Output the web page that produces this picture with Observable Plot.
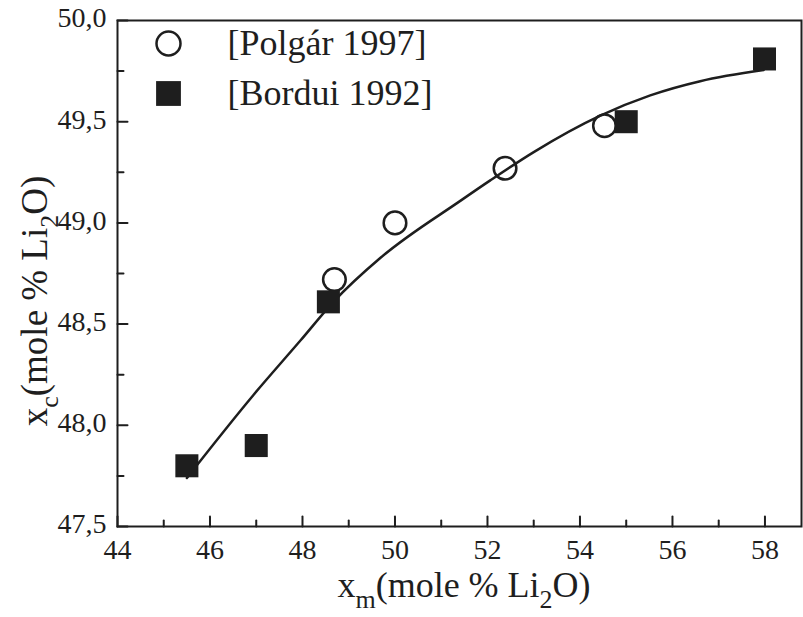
<!DOCTYPE html>
<html><head><meta charset="utf-8">
<script src="https://cdn.jsdelivr.net/npm/d3@7"></script>
<script src="https://cdn.jsdelivr.net/npm/@observablehq/plot@0.6"></script>
<style>
body{margin:0;background:#fff;}
#chart svg text{font-family:"Liberation Serif", "Times New Roman", serif !important;}
</style>
</head><body><div id="chart"></div>
<script>
// Data
const polgarX = [48.69, 50.0, 52.38, 54.53];
const polgarY = [48.72, 49.0, 49.27, 49.48];
const borduiX = [45.5, 47.0, 48.56, 55.0, 57.99];
const borduiY = [47.8, 47.9, 48.61, 49.5, 49.81];
const fitX = [45.5, 46.94, 47.96, 48.67, 49.7, 51.42, 52.06, 53.0, 54.44, 55.52, 56.6, 57.97];
const fitY = [47.74, 48.15, 48.42, 48.61, 48.83, 49.11, 49.21, 49.35, 49.53, 49.63, 49.70, 49.755];
const seriesNames = ["[Polgár 1997]", "[Bordui 1992]"];
const xTicks = [44, 46, 48, 50, 52, 54, 56, 58];
const xMinor = [45, 47, 49, 51, 53, 55, 57];
const yTicks = [47.5, 48.0, 48.5, 49.0, 49.5, 50.0];
const yMinor = [47.75, 48.25, 48.75, 49.25, 49.75];
const xDomain = [44, 58.79];
const yDomain = [47.5, 50.0];

const ink = "#1e1e1e";
const serif = "Liberation Serif";
const polgar = polgarX.map((x, i) => ({x, y: polgarY[i]}));
const bordui = borduiX.map((x, i) => ({x, y: borduiY[i]}));
const fit = fitX.map((x, i) => ({x, y: fitY[i]}));
const line = {draw(ctx, l) { ctx.moveTo(0, 0); ctx.lineTo(0, -l); }};

const chart = Plot.plot({
  width: 803, height: 617,
  marginLeft: 117, marginRight: 2, marginTop: 20, marginBottom: 91,
  style: {fontFamily: serif, color: ink, background: "#fff"},
  x: {domain: xDomain, axis: null},
  y: {domain: yDomain, axis: null},
  marks: [
    Plot.frame({stroke: ink, strokeWidth: 2}),
    Plot.vector(xTicks, {x: d => d, y: () => yDomain[0], length: 10, rotate: 0, anchor: "start", shape: line, stroke: ink, strokeWidth: 2}),
    Plot.vector(xMinor, {x: d => d, y: () => yDomain[0], length: 6, rotate: 0, anchor: "start", shape: line, stroke: ink, strokeWidth: 2}),
    Plot.vector(yTicks, {y: d => d, x: () => xDomain[0], length: 10, rotate: 90, anchor: "start", shape: line, stroke: ink, strokeWidth: 2}),
    Plot.vector(yMinor, {y: d => d, x: () => xDomain[0], length: 6, rotate: 90, anchor: "start", shape: line, stroke: ink, strokeWidth: 2}),
    Plot.text(xTicks, {x: d => d, y: () => yDomain[0], dy: 24, text: d => String(d), textAnchor: "middle", lineAnchor: "middle", fontSize: 28, fontFamily: serif, fill: ink}),
    Plot.text(yTicks, {y: d => d, x: () => xDomain[0], dx: -11, dy: -2, text: d => d.toFixed(1).replace(".", ","), textAnchor: "end", lineAnchor: "middle", fontSize: 28, fontFamily: serif, fill: ink}),
    Plot.line(fit, {x: "x", y: "y", curve: "monotone-x", stroke: ink, strokeWidth: 2.5}),
    Plot.dot(polgar, {x: "x", y: "y", r: 11.3, stroke: ink, strokeWidth: 2.5, fill: "none"}),
    Plot.dot(bordui, {x: "x", y: "y", r: 13, symbol: "square", fill: ink, stroke: "none"}),
    // legend
    Plot.dot([seriesNames[0]], {frameAnchor: "top-left", dx: 51, dy: 23, r: 12, stroke: ink, strokeWidth: 2.5, fill: "none"}),
    Plot.dot([seriesNames[1]], {frameAnchor: "top-left", dx: 51, dy: 73, r: 14, symbol: "square", fill: ink, stroke: "none"}),
    Plot.text([seriesNames[0]], {frameAnchor: "top-left", dx: 110, dy: 23, text: d => d, textAnchor: "start", lineAnchor: "middle", fontSize: 36, fontFamily: serif, fill: ink}),
    Plot.text([seriesNames[1]], {frameAnchor: "top-left", dx: 110, dy: 73, text: d => d, textAnchor: "start", lineAnchor: "middle", fontSize: 36, fontFamily: serif, fill: ink})
  ]
});
document.getElementById("chart").appendChild(chart);

const svg = d3.select(chart);
function title(sel, sub) {
  sel.append("tspan").text("x");
  sel.append("tspan").attr("dy", 11).style("font-size", "26px").text(sub);
  sel.append("tspan").attr("dy", -11).text("(mole % Li");
  sel.append("tspan").attr("dy", 11).style("font-size", "26px").text("2");
  sel.append("tspan").attr("dy", -11).text("O)");
}
svg.append("text")
  .attr("x", 464).attr("y", 597)
  .attr("text-anchor", "middle")
  .style("font-size", "36px").attr("fill", ink)
  .call(t => title(t, "m"));
svg.append("text")
  .attr("transform", "translate(47,301) rotate(-90)")
  .attr("text-anchor", "middle")
  .style("font-size", "37px").attr("fill", ink)
  .call(t => title(t, "c"));
</script>
</body></html>
